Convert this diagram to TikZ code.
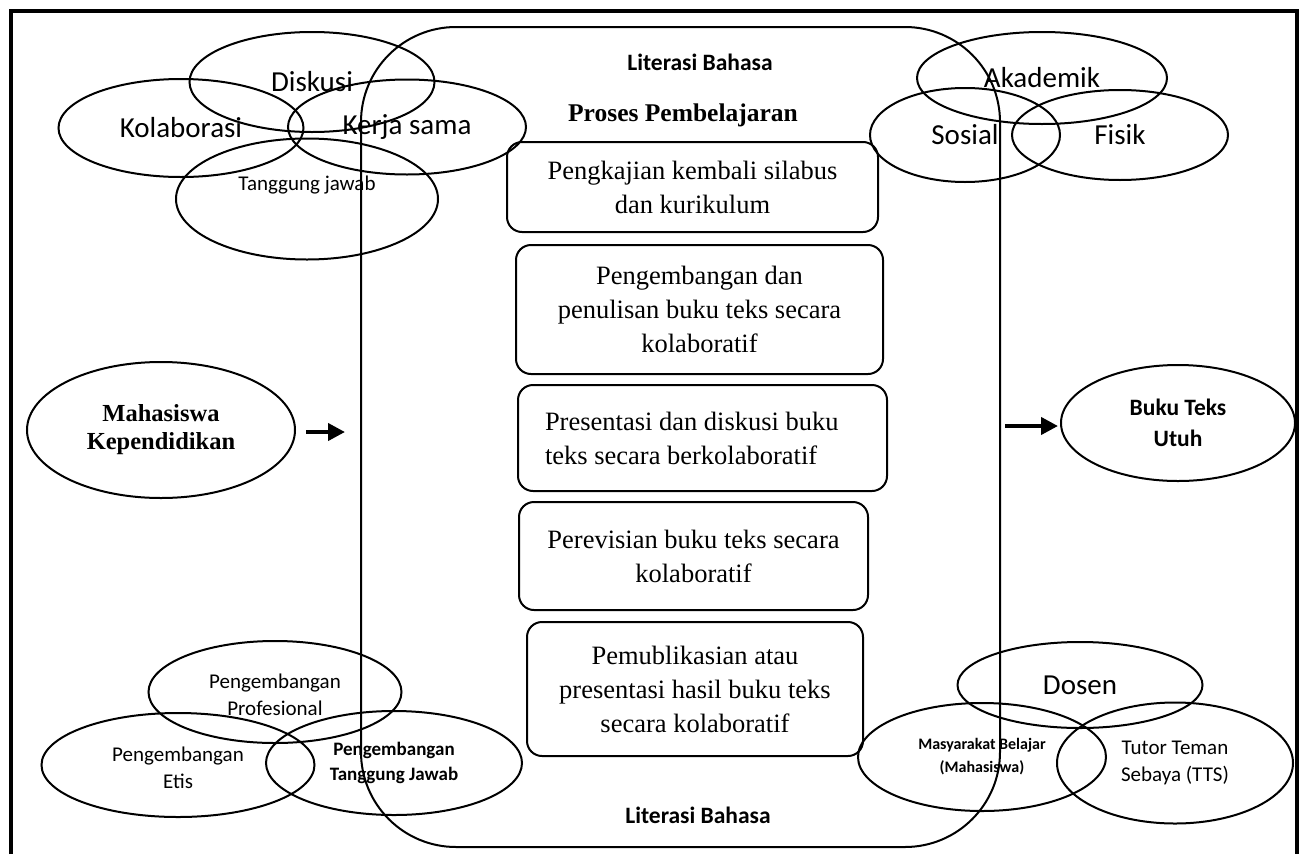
\documentclass[tikz,border=0pt]{standalone}
\usepackage{fontspec}
\setmainfont{Liberation Serif}
\newfontfamily\calibri{Carlito}
\usetikzlibrary{shapes.geometric,arrows.meta}
\def\fBesar{\calibri\fontsize{29}{35}\selectfont}
\def\fKecil{\calibri\fontsize{21}{27}\selectfont}
\def\fTebal{\calibri\bfseries\fontsize{19}{25}\selectfont}
\def\fJudul{\calibri\bfseries\fontsize{23.5}{31}\selectfont}
\def\fKotak{\fontsize{26.5}{34}\selectfont}

\begin{document}
\begin{tikzpicture}[x=1pt, y=-1pt,
		venn/.style={draw, ellipse, line width=2pt, inner sep=0pt, align=center},
		langkah/.style={draw, rounded corners=15pt, line width=2pt, inner sep=0pt, align=center, font=\fKotak},
		panah/.style={line width=4pt, -{Triangle[length=17pt,width=17pt]}}]
			%%%%% START %%%%%
			\useasboundingbox (0,0) rectangle (1306,854);
			
			\draw[line width=4pt, line join=miter] (11,854) -- (11,11) -- (1297,11) -- (1297,854);
			
			\draw[line width=2pt, rounded corners=95pt] (361,27) rectangle (1000,847);
			\node[font=\fJudul] (litAtas) at (700,62) {Literasi Bahasa};
			\node[font=\bfseries\fontsize{25.5}{30}\selectfont] (judul) at (683,115) {Proses Pembelajaran};
			\node[font=\fJudul] (litBawah) at (698,815) {Literasi Bahasa};
			
			\node[langkah, minimum width=371pt, minimum height=90pt] (kaji) at (692.5,187) {Pengkajian kembali silabus\\dan kurikulum};
			\node[langkah, minimum width=367pt, minimum height=129pt] (tulis) at (699.5,309.5) {Pengembangan dan\\penulisan buku teks secara\\kolaboratif};
			\node[langkah, align=left, text width=315pt, minimum width=369pt, minimum height=106pt] (diskusiBuku) at (702.5,438) {\spaceskip=0pt Presentasi dan diskusi buku\\teks secara berkolaboratif};
			\node[langkah, minimum width=349pt, minimum height=108pt] (revisi) at (693.5,556) {Perevisian buku teks secara\\kolaboratif};
			\node[langkah, minimum width=336pt, minimum height=134pt] (publikasi) at (695,689) {Pemublikasian atau\\presentasi hasil buku teks\\secara kolaboratif};
			
			\node[venn, font=\fBesar, minimum width=245pt, minimum height=100pt] (diskusi) at (312,82) {Diskusi};
			\node[venn, font=\fBesar, minimum width=245pt, minimum height=98pt] (kolaborasi) at (181,128) {Kolaborasi};
			\node[venn, font=\fBesar, minimum width=238pt, minimum height=95pt] (kerjasama) at (407,127) {Kerja sama};
			\node[venn, minimum width=262pt, minimum height=121pt, label={[font=\fKecil, yshift=14pt]center:Tanggung jawab}] (tanggung) at (307,199) {};
			
			\node[venn, font=\fBesar, minimum width=250pt, minimum height=92pt] (akademik) at (1042,78) {Akademik};
			\node[venn, font=\fBesar, minimum width=190pt, minimum height=94pt] (sosial) at (965,135) {Sosial};
			\node[venn, font=\fBesar, minimum width=216pt, minimum height=90pt] (fisik) at (1120,135) {Fisik};
			
			\node[venn, font=\bfseries\fontsize{24.5}{28}\selectfont, minimum width=268pt, minimum height=136pt] (mahasiswa) at (161,430) {Mahasiswa\\Kependidikan};
			\node[venn, font=\fJudul, minimum width=234pt, minimum height=116pt] (buku) at (1178,423) {Buku Teks\\Utuh};
			\coordinate (masuk) at (345,432);
			\coordinate (keluar) at (1005,426);
			\draw[panah] ([xshift=10pt, yshift=-2pt]mahasiswa.east) -- (masuk);
			\draw[panah] (keluar) -- ([xshift=-2pt, yshift=-3pt]buku.west);
			
			\node[venn, minimum width=253pt, minimum height=102pt, label={[font=\fKecil, align=center, yshift=-3pt]center:Pengembangan\\Profesional}] (profesional) at (275,692) {};
			\node[venn, minimum width=273pt, minimum height=104pt, label={[font=\fKecil, align=center, yshift=-3pt]center:Pengembangan\\Etis}] (etis) at (178,765) {};
			\node[venn, font=\fTebal, minimum width=256pt, minimum height=104pt] (jawab) at (394,763) {Pengembangan\\Tanggung Jawab};
			
			\node[venn, font=\fBesar, minimum width=245pt, minimum height=86pt] (dosen) at (1080,685) {Dosen};
			\node[venn, font=\calibri\bfseries\fontsize{16}{23}\selectfont, minimum width=248pt, minimum height=108pt] (masyarakat) at (982,757) {Masyarakat Belajar\\(Mahasiswa)};
			\node[venn, font=\fKecil, minimum width=236pt, minimum height=121pt] (tutor) at (1175,763) {Tutor Teman\\Sebaya (TTS)};
			
			%%%%% END %%%%%
\end{tikzpicture}
\end{document}
